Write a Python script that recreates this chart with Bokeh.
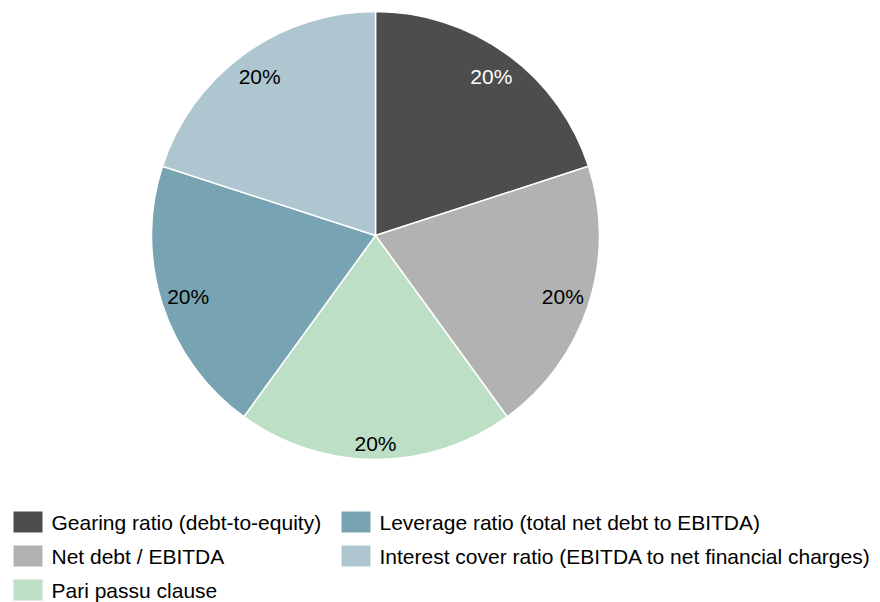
import numpy as np
from bokeh.plotting import figure
from bokeh.models import Range1d, ColumnDataSource
from bokeh.core.properties import value
from bokeh.embed import file_html
from bokeh.resources import INLINE

# ---- data ----
categories = [
    "Gearing ratio (debt-to-equity)",
    "Net debt / EBITDA",
    "Pari passu clause",
    "Leverage ratio (total net debt to EBITDA)",
    "Interest cover ratio (EBITDA to net financial charges)",
]
values = [20, 20, 20, 20, 20]
colors = ["#4d4d4d", "#b2b2b2", "#bddfc5", "#78a3b2", "#adc6cf"]
label_colors = ["white", "black", "black", "black", "black"]

# ---- layout (reference pixel coordinates; data y = H - pixel y) ----
W, H = 880, 602
FONT = "Liberation Sans"
cx, cy, R = 375, 235, 224
label_r = [197, 197, 208, 197, 197]

def Y(py):
    return H - py

p = figure(width=W, height=H, output_backend="svg", toolbar_location=None,
           x_range=Range1d(0, W), y_range=Range1d(Y(H), Y(0)),
           min_border=0, outline_line_color=None)
p.axis.visible = False
p.grid.visible = False
p.background_fill_color = "white"
p.border_fill_color = "white"

total = float(sum(values))
fracs = np.array(values) / total
ends = np.cumsum(fracs)
starts = ends - fracs
start_ang = np.pi / 2 - 2 * np.pi * starts
end_ang = np.pi / 2 - 2 * np.pi * ends
mid_ang = (start_ang + end_ang) / 2

src = ColumnDataSource(dict(start=start_ang, end=end_ang, color=colors))
p.wedge(x=cx, y=Y(cy), radius=R, start_angle="start", end_angle="end",
        direction="clock", fill_color="color", line_color="white",
        line_width=1.5, source=src)

lx = [cx + r * np.cos(a) for r, a in zip(label_r, mid_ang)]
ly = [Y(cy) + r * np.sin(a) for r, a in zip(label_r, mid_ang)]
labels = [f"{f * 100:.0f}%" for f in fracs]
p.text(x=lx, y=ly, text=labels, text_color=label_colors,
       text_font=value(FONT), text_font_size="21px",
       text_align="center", text_baseline="middle")

# ---- legend ----
col_x = [13, 341]
row_y = [521.5, 555.5, 589.5]
rows = len(row_y)
for i, (cat, col) in enumerate(zip(categories, colors)):
    c, r = divmod(i, rows)
    x0 = col_x[c]
    yc = row_y[r]
    p.quad(left=x0, right=x0 + 29, top=Y(yc - 10.5), bottom=Y(yc + 10.5),
           fill_color=col, line_color=None)
    p.text(x=[x0 + 38], y=[Y(yc)], text=[cat], text_color="black",
           text_font=value(FONT), text_font_size="21px",
           text_align="left", text_baseline="middle")

open("out.html", "w").write(file_html(p, INLINE))
